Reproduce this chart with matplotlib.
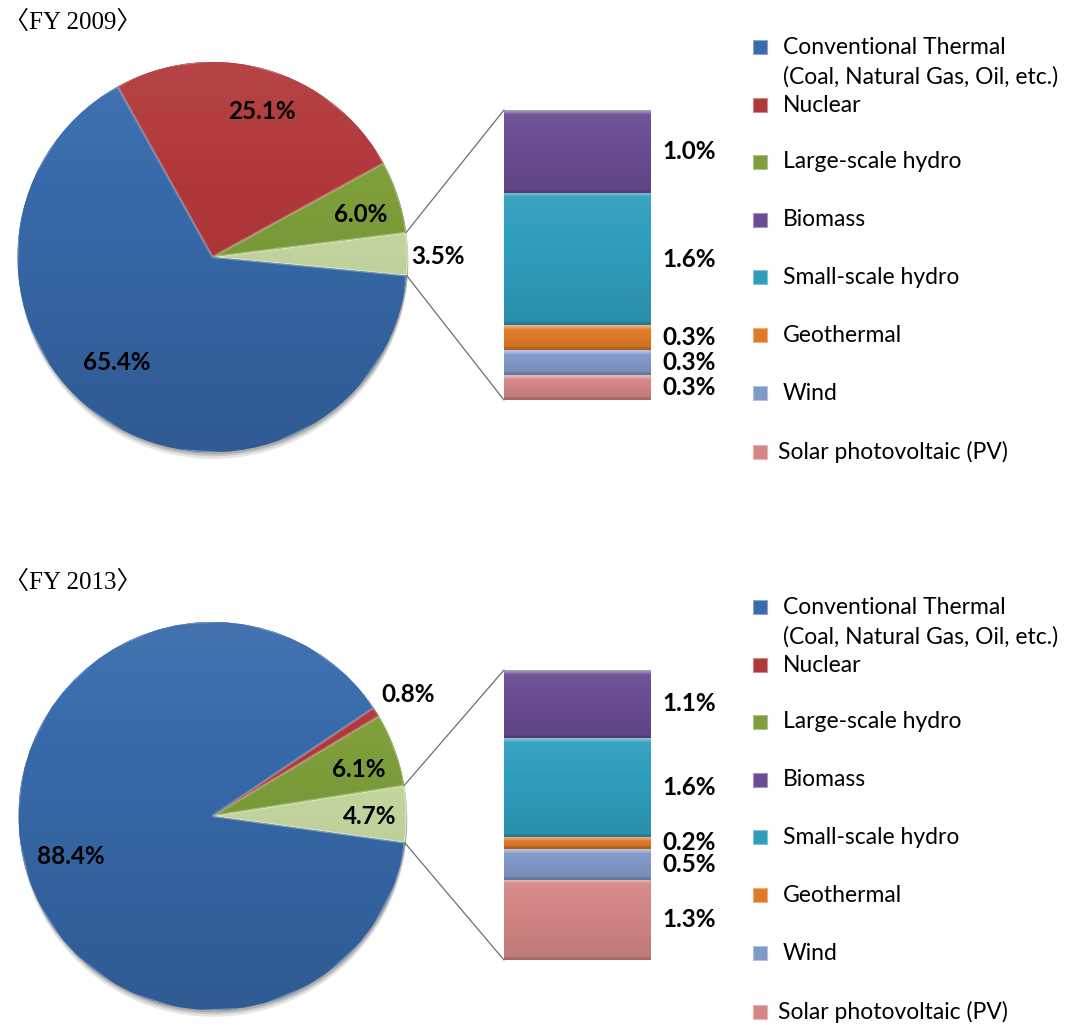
import matplotlib
matplotlib.use("Agg")
import matplotlib.pyplot as plt
from matplotlib.patches import ConnectionPatch, Rectangle, Circle
from matplotlib.colors import to_rgb
import numpy as np

# ---------------- data ----------------
years = ["〈FY 2009〉", "〈FY 2013〉"]
# pie slices, counter-clockwise from the start angle
pie_categories = ["Other renewables", "Large-scale hydro", "Nuclear",
                  "Conventional Thermal"]
pie_2009 = [3.5, 6.0, 25.1, 65.4]
pie_2013 = [4.7, 6.1, 0.8, 88.4]
# breakdown of "Other renewables", stacked bottom -> top
bar_categories = ["Solar photovoltaic (PV)", "Wind", "Geothermal",
                  "Small-scale hydro", "Biomass"]
bar_2009 = [0.3, 0.3, 0.3, 1.6, 1.0]
bar_2013 = [1.3, 0.5, 0.2, 1.6, 1.1]
legend_labels = ["Conventional Thermal\n(Coal, Natural Gas, Oil, etc.)",
                 "Nuclear", "Large-scale hydro", "Biomass", "Small-scale hydro",
                 "Geothermal", "Wind", "Solar photovoltaic (PV)"]

# ---------------- style ----------------
pie_colors = ["#c9dba3", "#7e9f3b", "#b1383a", "#386aab"]
bar_colors = ["#d38685", "#8199c9", "#e17a28", "#2f9ebd", "#6a4d93"]
legend_colors = ["#386aab", "#b1383a", "#7e9f3b", "#6a4d93", "#2f9ebd",
                 "#e17a28", "#8199c9", "#d38685"]

W, H = 1066, 1025
fig = plt.figure(figsize=(W / 100, H / 100), dpi=100)
LBL = dict(family=["Lato", "DejaVu Sans"])
LFS = 17.5  # data label size


def px_axes(x0, y0, x1, y1):
    return fig.add_axes([x0 / W, 1 - y1 / H, (x1 - x0) / W, (y1 - y0) / H])


def shade(color, f):
    rgb = np.array(to_rgb(color))
    if f >= 1:
        return np.clip(rgb + (1 - rgb) * (f - 1), 0, 1)
    return np.clip(rgb * f, 0, 1)


panels = [
    dict(title=years[0], pie=pie_2009, bar=bar_2009, start=-5.45,
         cy=257, r=195, bar_top=110, bar_bot=400, y0=0,
         lab_ang=[0, 16, 71.3, 228], lab_dist=[1.155, 0.79, 0.79, 0.73]),
    dict(title=years[1], pie=pie_2013, bar=bar_2013, start=-7.9,
         cy=816, r=194, bar_top=670, bar_bot=960, y0=560,
         lab_ang=[0, 17.7, 31.8, 196], lab_dist=[0.81, 0.79, 1.185, 0.76]),
]

for p in panels:
    cx, cy, r = 212.5, p["cy"], p["r"]
    axp = px_axes(cx - r - 10, cy - r - 10, cx + r + 10, cy + r + 10)
    lim = (r + 10) / r
    # soft shadow
    for k, a in [(0.035, 0.10), (0.022, 0.12), (0.012, 0.15)]:
        axp.add_patch(Circle((0.004, -k), 1.0, color="#000000", alpha=a,
                             lw=0, zorder=0))
    wedges, _ = axp.pie(p["pie"], colors=pie_colors, startangle=p["start"],
                        counterclock=True, radius=1,
                        wedgeprops=dict(linewidth=0))
    for w, c in zip(wedges, pie_colors):
        w.set_zorder(1)
        n = 256
        f = np.linspace(1.06, 0.86, n)
        img = np.array([shade(c, fi) for fi in f])[:, None, :]
        im = axp.imshow(img, extent=(-1, 1, -1, 1), aspect="auto",
                        interpolation="bilinear", zorder=2)
        im.set_clip_path(w)
        # bevel highlight along the edges
        hl = plt.Polygon(w.get_path().vertices, closed=True, fill=False,
                         edgecolor=shade(c, 1.3), lw=1.6, zorder=3)
        axp.add_patch(hl)
        hl.set_clip_path(w)
    axp.set_xlim(-lim, lim)
    axp.set_ylim(-lim, lim)
    axp.axis("off")
    for v, ang, d in zip(p["pie"], p["lab_ang"], p["lab_dist"]):
        a = np.deg2rad(ang)
        axp.text(d * np.cos(a), d * np.sin(a), f"{v:.1f}%", ha="center",
                 va="center", fontsize=LFS, fontweight="bold", color="black",
                 zorder=5, **LBL)

    # stacked bar
    axb = px_axes(504, p["bar_top"], 651, p["bar_bot"])
    total = sum(p["bar"])
    hpx_total = p["bar_bot"] - p["bar_top"]
    bottom = 0.0
    for v, c in zip(p["bar"], bar_colors):
        bars = axb.bar(0, v, bottom=bottom, width=1.0, color=c,
                       edgecolor=shade(c, 0.75), linewidth=0.8, zorder=1)
        rect = bars[0]
        hpx = v / total * hpx_total
        n = max(int(hpx * 3), 6)
        rows = np.linspace(0, hpx, n)
        fac = 1.06 - 0.16 * rows / max(hpx, 1)
        fac = np.where(rows < 4, 1.45 - 0.08 * rows, fac)
        fac = np.where(rows > hpx - 2.5, 0.78, fac)
        img = np.array([shade(c, fi) for fi in fac])[:, None, :]
        im = axb.imshow(img, extent=(-0.5, 0.5, bottom, bottom + v),
                        aspect="auto", interpolation="bilinear", zorder=2)
        im.set_clip_path(rect)
        axb.annotate(f"{v:.1f}%", xy=(0.5, bottom + v / 2),
                     xytext=(8.5, 0), textcoords="offset points",
                     ha="left", va="center", fontsize=LFS, fontweight="bold",
                     **LBL)
        bottom += v
    axb.set_xlim(-0.5, 0.5)
    axb.set_ylim(0, total)
    axb.axis("off")

    # connector lines
    w0 = wedges[0]
    for th, yb in [(w0.theta2, 1), (w0.theta1, 0)]:
        a = np.deg2rad(th)
        con = ConnectionPatch(xyA=(np.cos(a), np.sin(a)), coordsA=axp.transData,
                              xyB=(0, yb), coordsB=axb.transAxes,
                              color="#6e6e6e", lw=0.9)
        fig.add_artist(con)

    # title
    fig.text(4 / W, 1 - (p["y0"] + 22) / H, p["title"], ha="left",
             va="center", fontsize=18,
             family=["Liberation Serif", "Noto Sans CJK JP"])

    # legend (manual)
    ys = [47, 105, 162, 220, 277, 335, 393, 452]
    for i, (lab, col) in enumerate(zip(legend_labels, legend_colors)):
        y = p["y0"] + ys[i]
        fig.add_artist(Rectangle((753 / W, 1 - (y + 7) / H), 14 / W, 14 / H,
                                 transform=fig.transFigure, facecolor=col,
                                 edgecolor=shade(col, 1.4), lw=0.8))
        tx = 778 if i == 7 else 783
        fig.text(tx / W, 1 - y / H, lab.split("\n")[0], ha="left",
                 va="center", fontsize=16.5, **LBL)
        if "\n" in lab:
            fig.text(tx / W, 1 - (y + 30) / H, lab.split("\n")[1], ha="left",
                     va="center", fontsize=16.5, **LBL)

fig.savefig("out.png", dpi=100, facecolor="white")
